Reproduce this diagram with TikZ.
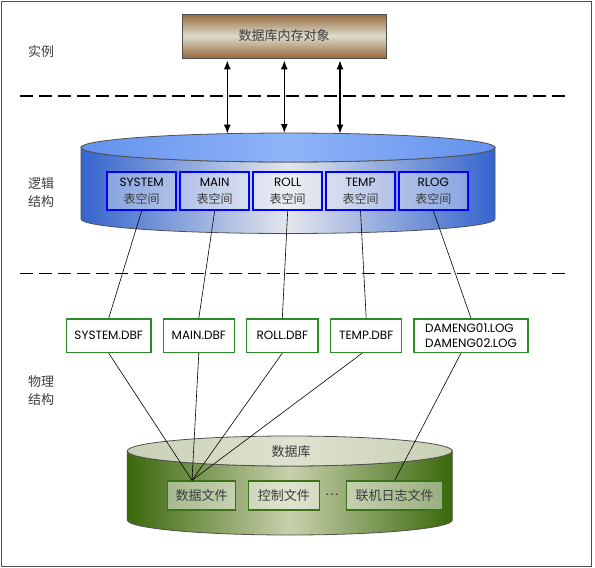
\documentclass[tikz,border=0pt]{standalone}
\usepackage{fontspec}
\setmainfont{Poppins}
\newfontfamily\cjk{Noto Sans CJK SC}
\usetikzlibrary{arrows.meta,positioning}

\definecolor{brownedge}{RGB}{152,106,62}
\definecolor{brownmid}{RGB}{220,220,204}
\definecolor{blueedge}{RGB}{52,100,205}
\definecolor{bluemid}{RGB}{228,230,236}
\definecolor{bluetop}{RGB}{100,145,238}
\definecolor{bluetopmid}{RGB}{142,180,248}
\definecolor{greenedge}{RGB}{58,104,10}
\definecolor{greenmid}{RGB}{200,208,172}
\definecolor{greentop}{RGB}{200,208,180}
\definecolor{greentopmid}{RGB}{222,226,208}
\definecolor{boxgreen}{RGB}{40,140,40}
\definecolor{innergreen}{RGB}{60,115,25}
\definecolor{rim}{RGB}{80,80,80}
\definecolor{labelgray}{RGB}{60,60,60}

\tikzset{
  membox/.style={draw=rim, line width=0.8pt, top color=brownedge, bottom color=brownedge,
    middle color=brownmid, minimum width=204pt, minimum height=44pt,
    font=\cjk\fontsize{13}{16}\selectfont, text=labelgray},
  tsbox/.style={draw=blue, line width=1.5pt, fill=white, fill opacity=0.35, text opacity=1,
    minimum width=69pt, minimum height=38pt, inner sep=0pt, align=center,
    font=\fontsize{12}{17}\selectfont},
  filebox/.style={draw=boxgreen, line width=1.4pt, fill=white, minimum height=33.5pt,
    inner sep=0pt, font=\fontsize{12}{15}\selectfont},
  partbox/.style={draw=innergreen, line width=1.4pt, fill=white, fill opacity=0.45,
    text opacity=1, minimum height=29pt, inner sep=0pt, text=labelgray,
    font=\cjk\fontsize{13}{16}\selectfont},
  sidelabel/.style={text=labelgray, align=center, font=\cjk\fontsize{13}{18}\selectfont},
  dashline/.style={line width=1.5pt, dash pattern=on 13pt off 6pt},
  twoway/.style={{Latex[length=9pt,width=7pt]}-{Latex[length=9pt,width=7pt]},
    line width=1.2pt, shorten <=2pt},
  link/.style={line width=0.6pt}
}

\newcommand{\tsname}[1]{#1\\{\cjk\color{labelgray}表空间}}

\begin{document}
\begin{tikzpicture}[x=1pt,y=-1pt]
\useasboundingbox (0,0) rectangle (595,568);
\draw[rim, line width=0.8pt] (1.5,1.5) rectangle (591,566.5);

% layer labels and separators
\node[sidelabel] (inst) at (41,52) {实例};
\node[sidelabel] (logic) at (41,193) {逻辑\\结构};
\node[sidelabel] (phys) at (41,391) {物理\\结构};
\draw[dashline] (20,96) -- (568,96);
\draw[dashline] (20,273.5) -- (568,273.5);

% memory objects
\node[membox] (mem) at (284,36) {数据库内存对象};

% logical cylinder
\path[draw=rim, line width=0.8pt, left color=blueedge, right color=blueedge, middle color=bluemid]
  (81,147.5) -- (81,219) arc[start angle=180, end angle=360, x radius=207pt, y radius=14.5pt]
  -- (495,147.5) arc[start angle=0, end angle=-180, x radius=207pt, y radius=14.5pt] -- cycle;
\path[draw=rim, line width=0.8pt, left color=bluetop, right color=bluetop, middle color=bluetopmid]
  (288,147.5) ellipse[x radius=207pt, y radius=14.5pt];
\coordinate (t1) at (227.3,133.6);
\coordinate (t2) at (284.3,133.0);
\coordinate (t3) at (340,133.5);

\node[tsbox] (tssys) at (141.7,191) {\tsname{SYSTEM}};
\node[tsbox] (tsmain) at (214.7,191) {\tsname{MAIN}};
\node[tsbox] (tsroll) at (287.7,191) {\tsname{ROLL}};
\node[tsbox] (tstemp) at (360.5,191) {\tsname{TEMP}};
\node[tsbox] (tsrlog) at (433.3,191) {\tsname{RLOG}};

% physical files
\node[filebox, minimum width=84.7pt] (fsys) at (108.7,335.7) {SYSTEM.DBF};
\node[filebox, minimum width=71pt] (fmain) at (198.8,335.7) {MAIN.DBF};
\node[filebox, minimum width=71.3pt] (froll) at (282.3,335.7) {ROLL.DBF};
\node[filebox, minimum width=71pt] (ftemp) at (366.2,335.7) {TEMP.DBF};
\node[filebox, minimum width=114pt, align=left] (flog) at (471,335.7) {DAMENG01.LOG\\DAMENG02.LOG};

% database cylinder
\path[draw=rim, line width=0.8pt, left color=greenedge, right color=greenedge, middle color=greenmid]
  (127.3,451) -- (127.3,520) arc[start angle=180, end angle=360, x radius=162.5pt, y radius=15pt]
  -- (452.3,451) arc[start angle=0, end angle=-180, x radius=162.5pt, y radius=15pt] -- cycle;
\path[draw=rim, line width=0.8pt, left color=greentop, right color=greentop, middle color=greentopmid]
  (289.8,451) ellipse[x radius=162.5pt, y radius=15pt];
\node[text=labelgray, font=\cjk\fontsize{13}{16}\selectfont] (dbname) at (291,452) {数据库};

\node[partbox, minimum width=68.4pt] (datafile) at (201.5,495.5) {数据文件};
\node[partbox, minimum width=71pt] (ctlfile) at (283.8,495.5) {控制文件};
\node[text=labelgray, font=\cjk\fontsize{13}{16}\selectfont] (dots) at (332,495) {…};
\node[partbox, minimum width=96pt] (redofile) at (394.7,495.5) {联机日志文件};
\coordinate (df) at ([xshift=-9.5pt]datafile.north);

% memory to tablespaces
\draw[twoway] (mem.south -| t1) -- (t1);
\draw[twoway] (mem.south -| t2) -- (t2);
\draw[twoway] (mem.south -| t3) -- (t3);

% tablespaces to files
\draw[link] (tssys.south) -- (fsys.north);
\draw[link] (tsmain.south) -- (fmain.north);
\draw[link] (tsroll.south) -- (froll.north);
\draw[link] (tstemp.south) -- (ftemp.north);
\draw[link] (tsrlog.south) -- (flog.north);

% files to database
\draw[link] (fsys.south) -- (df);
\draw[link] (fmain.south) -- (df);
\draw[link] (froll.south) -- (df);
\draw[link] ([xshift=-4pt]ftemp.south) -- (df);
\draw[link] ([xshift=-10pt]flog.south) -- (redofile.north);
\end{tikzpicture}
\end{document}
